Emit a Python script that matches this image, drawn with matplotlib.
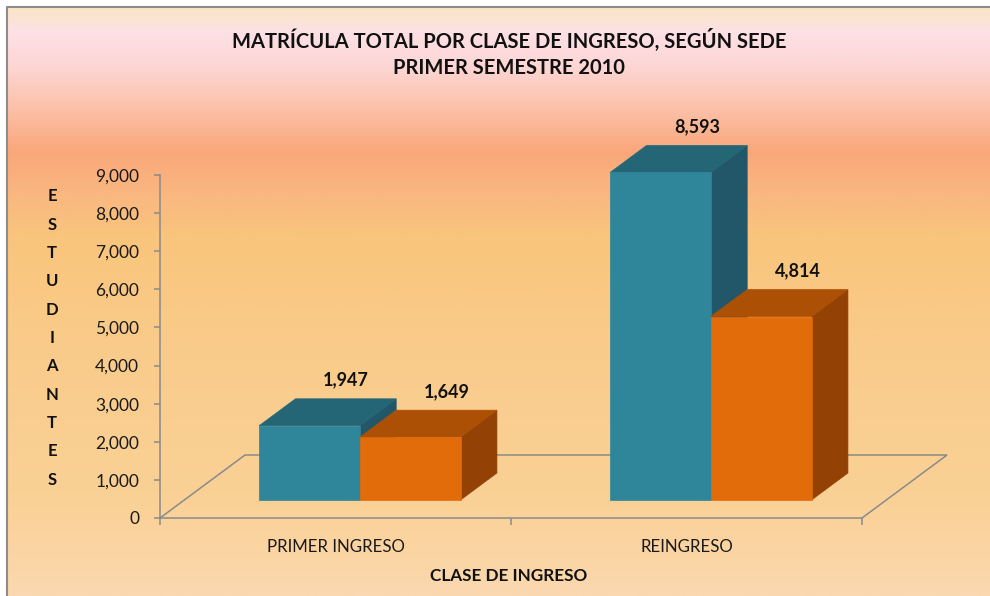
import matplotlib.pyplot as plt
import matplotlib.colors as mcolors
import numpy as np
from matplotlib.patches import Polygon

plt.rcParams['font.family'] = ['Lato', 'DejaVu Sans']

# data
categorias = ['PRIMER INGRESO', 'REINGRESO']
serie_a = [1947, 8593]   # azul
serie_b = [1649, 4814]   # naranja
series = [serie_a, serie_b]
y_ticks = list(range(0, 9001, 1000))

# colours: front, top, side
caras = [('#2F8599', '#246676', '#215769'),
         ('#E36C0A', '#AC5005', '#934104')]

W, H = 990, 596
fig = plt.figure(figsize=(W / 100, H / 100), dpi=100)

# background gradient
bg = fig.add_axes([0, 0, 1, 1])
stops = [(0.0, '#FBE6C6'), (0.04, '#FDE1E6'), (0.10, '#FDD6D4'),
         (0.17, '#FCC1A9'), (0.245, '#FAA77A'), (0.32, '#F9B880'),
         (0.39, '#F9C57C'), (0.6, '#F9CC8C'), (0.85, '#FAD196'), (1.0, '#FBD8B0')]
cmap = mcolors.LinearSegmentedColormap.from_list('bg', stops)
grad = np.linspace(0, 1, 512).reshape(-1, 1)
bg.imshow(grad, cmap=cmap, aspect='auto', extent=[7, W, H, 7])
bg.set_xlim(0, W)
bg.set_ylim(H, 0)
bg.plot([7, 7, W], [H, 7, 7], color='#8C8C8C', lw=1.5)
bg.axis('off')

# plot area (front plane)
ax = fig.add_axes([160 / W, 78 / H, 702 / W, 343 / H])
ax.patch.set_alpha(0)
ax.set_xlim(0, 2)
ax.set_ylim(0, 9000)

gris = '#8A8A8A'
for s in ['top', 'right']:
    ax.spines[s].set_visible(False)
for s in ['left', 'bottom']:
    ax.spines[s].set_color(gris)
    ax.spines[s].set_linewidth(1.1)

ax.set_yticks(y_ticks)
ax.set_yticklabels([f'{t:,}' for t in y_ticks])
ax.set_xticks([0, 1, 2])
ax.set_xticklabels([])
ax.set_xticks([0.5, 1.5], minor=True)
ax.set_xticklabels(categorias, minor=True)
ax.tick_params(axis='y', length=4, width=1.1, color=gris, pad=11,
               labelsize=12.5, labelcolor='#1a1a1a')
ax.tick_params(axis='x', which='major', length=5, width=1.1, color=gris, direction='out')
ax.tick_params(axis='x', which='minor', length=0, pad=15, labelsize=12.2,
               labelcolor='#1a1a1a')

# 3D projection offsets (full floor depth) in data units
ddx = 85 / 351
ddy = 63 / 343 * 9000
f0, f1 = 0.286, 0.714
w = 0.287

# floor outline
floor = Polygon([(0, 0), (ddx, ddy), (2 + ddx, ddy), (2, 0)], closed=False,
                fill=False, edgecolor=gris, lw=1.1, clip_on=False)
ax.add_patch(floor)

for i in range(len(categorias)):
    for j, vals in enumerate(series):
        v = vals[i]
        fc, tc, sc = caras[j]
        x0 = i + 0.5 - w + j * w + f0 * ddx
        y0 = f0 * ddy
        bx = (f1 - f0) * ddx
        by = (f1 - f0) * ddy
        front = [(x0, y0), (x0 + w, y0), (x0 + w, y0 + v), (x0, y0 + v)]
        top = [(x0, y0 + v), (x0 + w, y0 + v), (x0 + w + bx, y0 + v + by), (x0 + bx, y0 + v + by)]
        side = [(x0 + w, y0), (x0 + w + bx, y0 + by), (x0 + w + bx, y0 + v + by), (x0 + w, y0 + v)]
        for pts, c in [(side, sc), (top, tc), (front, fc)]:
            ax.add_patch(Polygon(pts, closed=True, facecolor=c, edgecolor=c,
                                 lw=0.5, clip_on=False, zorder=3 + j))
        ax.annotate(f'{v:,}', (x0 + w / 2 + bx, y0 + v + by), xytext=(0, 13.5),
                    textcoords='offset points', ha='center', va='center',
                    fontsize=13, fontweight='bold', color='#111111', zorder=10,
                    annotation_clip=False)

# titles
fig.text(509 / W, 1 - 40 / H, 'MATRÍCULA TOTAL POR CLASE DE INGRESO, SEGÚN SEDE',
         ha='center', va='center', fontsize=14.5, fontweight='bold', color='#111111')
fig.text(509 / W, 1 - 68 / H, 'PRIMER SEMESTRE 2010',
         ha='center', va='center', fontsize=14.5, fontweight='bold', color='#111111')
fig.text(509 / W, 1 - 576 / H, 'CLASE DE INGRESO',
         ha='center', va='center', fontsize=12.3, fontweight='bold', color='#111111')
fig.text(52 / W, 1 - 338 / H, '\n'.join('ESTUDIANTES'),
         ha='center', va='center', fontsize=12, fontweight='bold', color='#111111',
         linespacing=1.95)

fig.savefig('out.png', dpi=100)
